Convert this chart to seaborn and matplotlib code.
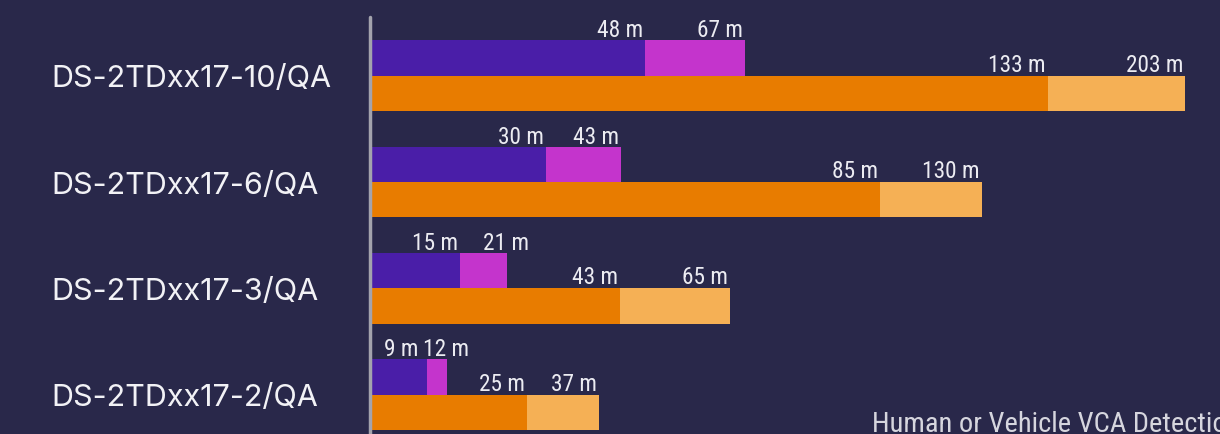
import matplotlib
matplotlib.use("Agg")
import matplotlib.pyplot as plt
import matplotlib.transforms as mtransforms
from matplotlib import font_manager
import seaborn as sns
import pandas as pd

# ---- data (bar lengths, in display units; labels as printed) ----
models = ["DS-2TDxx17-10/QA", "DS-2TDxx17-6/QA", "DS-2TDxx17-3/QA", "DS-2TDxx17-2/QA"]
series = ["human", "vehicle"]
# inner (dark) segment lengths
human_inner_len = [274, 175, 89, 56]
vehicle_inner_len = [677, 509, 249, 156]
# outer (light) segment ends
human_outer_len = [374, 250, 136, 76]
vehicle_outer_len = [814, 611, 359, 228]
# printed distances (m)
human_inner_lbl = [48, 30, 15, 9]
human_outer_lbl = [67, 43, 21, 12]
vehicle_inner_lbl = [133, 85, 43, 25]
vehicle_outer_lbl = [203, 130, 65, 37]
footer = "Human or Vehicle VCA Detection"

# ---- style ----
BG = "#29284a"
C_HUMAN_IN, C_HUMAN_OUT = "#4a1ea8", "#c434cc"
C_VEH_IN, C_VEH_OUT = "#e87c00", "#f5b055"
TXT = "#ececf2"

sns.set_theme(style="white")
plt.rcParams["font.family"] = ["DejaVu Sans"]

names = {f.name for f in font_manager.fontManager.ttflist}
cond_stretch = "condensed"
cond_family = ["DejaVu Sans"]
for cand in ["Liberation Sans Narrow", "Roboto Condensed", "Open Sans Condensed"]:
    if cand in names:
        cond_family = [cand, "DejaVu Sans"]
        cond_stretch = "normal"
        break

inner = pd.DataFrame({
    "model": models * 2,
    "series": ["human"] * 4 + ["vehicle"] * 4,
    "length": human_inner_len + vehicle_inner_len,
})
outer = pd.DataFrame({
    "model": models * 2,
    "series": ["human"] * 4 + ["vehicle"] * 4,
    "length": human_outer_len + vehicle_outer_len,
})

W, H = 1220, 435
fig = plt.figure(figsize=(W / 100, H / 100), dpi=100, facecolor=BG)
ax = fig.add_axes([371 / W, 0, 849 / W, 1])
ax.set_facecolor(BG)

bw = 0.666
common = dict(y="model", x="length", hue="series", order=models, hue_order=series,
              orient="h", dodge=True, width=bw, saturation=1, errorbar=None,
              linewidth=0, legend=False, ax=ax)
sns.barplot(data=outer, palette={"human": C_HUMAN_OUT, "vehicle": C_VEH_OUT}, **common)
sns.barplot(data=inner, palette={"human": C_HUMAN_IN, "vehicle": C_VEH_IN}, **common)

ax.set_xlim(0, 849)
ax.set_ylim(3.37, -0.72)
ax.set_xticks([])
ax.set_yticks([])
ax.set_xlabel("")
ax.set_ylabel("")
for s in ax.spines.values():
    s.set_visible(False)

# axis line
ax.axvline(-1.0, ymin=0, ymax=1 - 18 / H, color="#a3a3ad", lw=2.5, clip_on=False, zorder=5)

# value labels (outer label pushed right when it would crowd the inner one)
half = bw / 2
fig.canvas.draw()
renderer = fig.canvas.get_renderer()
lab_kw = dict(textcoords="offset pixels", ha="right", va="baseline", color=TXT,
              fontsize=16.8, family=cond_family, fontstretch=cond_stretch,
              annotation_clip=False)
for i in range(len(models)):
    pairs = [
        (human_inner_len[i], human_inner_lbl[i], human_outer_len[i], human_outer_lbl[i], i - half, 4),
        (vehicle_inner_len[i], vehicle_inner_lbl[i], vehicle_outer_len[i], vehicle_outer_lbl[i], i, 5),
    ]
    for x_in, l_in, x_out, l_out, ytop, gap in pairs:
        t_out = ax.annotate(f"{l_out} m", xy=(x_out, ytop), xytext=(-2, gap), **lab_kw)
        t_in = ax.annotate(f"{l_in} m", xy=(x_in, ytop), xytext=(-2, gap), **lab_kw)
        b_out = t_out.get_window_extent(renderer)
        b_in = t_in.get_window_extent(renderer)
        if b_out.x0 - b_in.x1 < 8:
            shift = 24
            t_out.set_position((-2 + shift, gap))
            still = b_in.x1 - (b_out.x0 + shift - 5)
            if still > 0:
                t_in.set_position((-2 - still, gap))

# category labels
trans = mtransforms.blended_transform_factory(fig.transFigure, ax.transData)
for i, m in enumerate(models):
    ax.text(51 / W, i + 0.025, m, transform=trans, ha="left", va="center",
            color="#f2f2f6", fontsize=22, family=["Inter", "DejaVu Sans"], clip_on=False)

fig.text(872 / W, 1 - 432 / H, footer, ha="left", va="baseline", color="#d6d6de",
         fontsize=20.5, family=cond_family, fontstretch=cond_stretch)

fig.savefig("out.png", dpi=100, facecolor=BG)
